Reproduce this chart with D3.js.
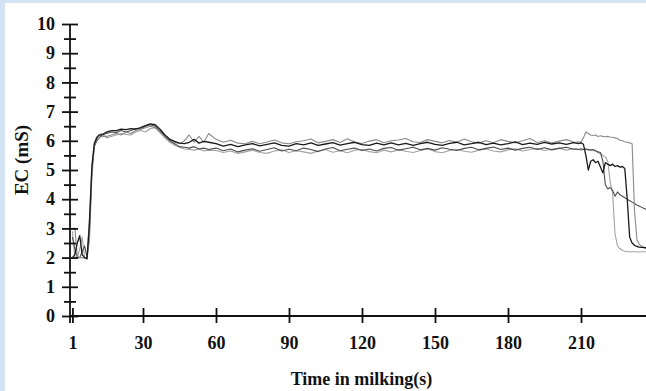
<!DOCTYPE html>
<html>
<head>
<meta charset="utf-8">
<script src="https://cdn.jsdelivr.net/npm/d3@7/dist/d3.min.js"></script>
<style>
	body { margin: 0; background: #fff; }
	svg { display: block; }
</style>
</head>
<body>
<div id="chart"></div>
<script>
//	Sampling times (s), shared by all four records
var times = [1,2,3,4,5,6,7,8,9,10,11,12,13,
	15,17,19,21,23,25,27,29,31,33,35,37,39,41,43,45,47,49,51,53,55,57,
	60,63,66,69,72,75,78,81,84,87,90,93,96,99,102,105,108,111,114,117,120,123,126,129,
	132,135,138,141,144,147,150,153,156,159,162,165,168,171,174,177,180,183,186,189,
	192,195,198,201,204,207,
	208,209,210,211,212,213,214,215,216,217,218,219,220,221,222,223,224,225,226,227,
	228,229,230,231,232,233,234,235,236,237];

//	EC (mS) per record
var ecA = [3.0,3.0,2.05,2.0,2.0,1.98,1.95,2.6,4.8,5.85,6.05,6.1,6.15,
	6.15,6.2,6.25,6.2,6.3,6.25,6.35,6.4,6.45,6.5,6.45,6.3,6.15,6.05,5.95,5.9,6.0,6.2,5.95,6.15,5.95,6.25,
	6.05,5.95,6.02,5.92,5.9,5.98,5.9,5.96,6.03,5.93,
	5.9,5.97,6.0,6.06,5.93,5.98,6.04,5.94,6.07,5.96,
	5.91,5.99,6.04,5.93,6.0,6.03,6.08,5.97,5.94,6.04,
	5.98,5.93,6.01,5.95,6.06,5.97,5.92,6.0,5.93,6.04,
	5.98,5.93,6.0,6.08,5.94,6.0,5.92,5.99,6.04,5.96,
	5.95,5.97,5.95,6.1,6.3,6.25,6.2,6.18,6.2,6.15,6.17,6.15,6.14,6.15,6.13,6.12,6.1,6.08,6.02,6.0,
	5.97,5.95,5.93,5.9,3.6,2.6,2.45,2.38,2.32,2.3];

var ecB = [2.0,2.1,2.5,2.75,2.1,2.0,1.97,3.2,5.1,5.9,6.1,6.2,6.2,
	6.3,6.35,6.35,6.4,6.38,6.42,6.4,6.45,6.52,6.58,6.55,6.4,6.2,6.05,5.98,5.92,5.9,5.95,6.05,5.92,5.98,5.95,
	5.9,5.82,5.88,5.8,5.86,5.9,5.83,5.88,5.93,5.84,
	5.82,5.9,5.86,5.93,5.84,5.89,5.94,5.85,5.9,5.95,
	5.87,5.84,5.92,5.86,5.93,5.86,5.91,5.84,5.9,5.95,
	5.88,5.84,5.91,5.95,5.86,5.9,5.95,5.87,5.92,5.86,
	5.9,5.96,5.87,5.92,5.88,5.95,5.89,5.93,5.88,5.94,
	5.92,5.9,5.93,5.88,5.5,5.0,5.3,5.35,5.25,5.3,5.1,4.9,5.25,5.2,5.15,5.2,5.12,5.15,5.1,5.12,
	5.05,4.0,2.7,2.5,2.42,2.38,2.36,2.35,2.35,2.34];

var ecC = [2.7,2.3,2.0,2.0,2.2,2.4,2.0,2.9,5.0,5.8,6.0,6.1,6.2,
	6.25,6.3,6.28,6.35,6.3,6.35,6.42,6.4,6.5,6.55,6.5,6.35,6.15,6.0,5.9,5.8,5.78,5.75,5.8,5.72,5.75,5.7,
	5.75,5.66,5.72,5.62,5.68,5.73,5.64,5.7,5.76,5.65,
	5.71,5.66,5.75,5.7,5.63,5.72,5.77,5.66,5.71,5.75,
	5.67,5.72,5.65,5.74,5.77,5.68,5.73,5.78,5.69,5.74,
	5.68,5.76,5.71,5.67,5.74,5.78,5.69,5.74,5.79,5.7,
	5.75,5.68,5.74,5.78,5.7,5.76,5.69,5.74,5.78,5.71,
	5.72,5.7,5.73,5.7,5.72,5.7,5.68,5.7,5.66,5.62,5.6,5.3,4.5,4.35,4.4,4.3,4.1,4.25,4.15,4.1,
	4.05,4.0,3.95,3.9,3.85,3.8,3.76,3.72,3.68,3.64];

var ecD = [2.9,2.0,2.0,2.3,2.7,2.0,1.95,3.4,5.2,5.95,6.15,6.2,6.25,
	6.1,6.15,6.2,6.25,6.22,6.2,6.3,6.35,6.3,6.42,6.45,6.28,6.1,5.95,5.85,5.78,5.72,5.7,5.68,5.72,5.65,5.68,
	5.67,5.6,5.65,5.57,5.62,5.68,5.6,5.57,5.65,5.69,
	5.6,5.66,5.62,5.57,5.65,5.7,5.61,5.66,5.59,5.68,
	5.7,5.63,5.59,5.68,5.62,5.69,5.64,5.6,5.67,5.72,
	5.63,5.59,5.67,5.71,5.64,5.61,5.68,5.72,5.65,5.62,
	5.69,5.73,5.65,5.7,5.74,5.67,5.71,5.75,5.68,5.73,
	5.72,5.7,5.68,5.7,5.72,5.68,5.7,5.66,5.65,5.6,5.55,5.5,5.45,5.3,4.6,4.2,2.8,2.4,2.3,2.25,
	2.22,2.2,2.2,2.2,2.2,2.2,2.19,2.2,2.2,2.2];

var xTicks = [1, 30, 60, 90, 120, 150, 180, 210];
var yTicks = [0, 1, 2, 3, 4, 5, 6, 7, 8, 9, 10];
var yMinor = [0.5, 1.5, 2.5, 3.5, 4.5, 5.5, 6.5, 7.5, 8.5, 9.5];

var series = [
	{ values: ecD, color: "#a3a3a3", width: 1.1 },
	{ values: ecC, color: "#4d4d4d", width: 1.1 },
	{ values: ecA, color: "#8a8a8a", width: 1.1 },
	{ values: ecB, color: "#1a1a1a", width: 1.3 }
];

drawChart();

function drawChart() {
	var W = 646,
		H = 391;

	var svg = d3.select("#chart")
		.append("svg")
		.attr("width", W)
		.attr("height", H);

	//	Page background with the blue frame on left and top
	svg.append("rect")
		.attr("width", W)
		.attr("height", H)
		.attr("fill", "#fff");
	svg.append("rect")
		.attr("width", 5)
		.attr("height", H)
		.attr("fill", "#d3e3f4");
	svg.append("rect")
		.attr("width", W)
		.attr("height", 3)
		.attr("fill", "#d3e3f4");

	var x = d3.scaleLinear()
		.domain([0, 237])
		.range([70, 646.7]);

	var y = d3.scaleLinear()
		.domain([0, 10])
		.range([316, 24]);

	var font = "'Liberation Serif', 'Times New Roman', serif";

	svg.append("clipPath")
		.attr("id", "plot-clip")
		.append("rect")
		.attr("x", 70)
		.attr("y", 0)
		.attr("width", W - 70)
		.attr("height", 316);

	//	Records
	var line = d3.line()
		.x(function(d, i) { return x(times[i]); })
		.y(function(d) { return y(d); });

	svg.append("g")
		.attr("clip-path", "url(#plot-clip)")
		.selectAll("path")
		.data(series)
		.enter()
		.append("path")
		.attr("d", function(s) { return line(s.values); })
		.attr("fill", "none")
		.attr("stroke", function(s) { return s.color; })
		.attr("stroke-width", function(s) { return s.width; })
		.attr("stroke-linejoin", "round");

	//	X axis
	var xAxis = svg.append("g")
		.attr("transform", "translate(0,316)")
		.call(d3.axisBottom(x)
			.tickValues(xTicks)
			.tickFormat(d3.format("d"))
			.tickSizeInner(7)
			.tickSizeOuter(0));

	xAxis.select(".domain")
		.attr("d", "M70,0H646")
		.attr("stroke", "#111")
		.attr("stroke-width", 1.8);
	xAxis.selectAll(".tick line")
		.attr("y1", -8)
		.attr("stroke", "#111")
		.attr("stroke-width", 1.8);
	xAxis.selectAll(".tick text")
		.attr("y", 20)
		.attr("fill", "#111")
		.style("font-family", font)
		.style("font-weight", "bold")
		.style("font-size", "18px");

	//	Y axis, minor ticks first
	var yMinorAxis = svg.append("g")
		.attr("transform", "translate(70,0)")
		.call(d3.axisLeft(y)
			.tickValues(yMinor)
			.tickFormat("")
			.tickSizeInner(6)
			.tickSizeOuter(0));

	yMinorAxis.select(".domain").remove();
	yMinorAxis.selectAll(".tick line")
		.attr("x1", 6)
		.attr("stroke", "#111")
		.attr("stroke-width", 1.8);

	var yAxis = svg.append("g")
		.attr("transform", "translate(70,0)")
		.call(d3.axisLeft(y)
			.tickValues(yTicks)
			.tickFormat(d3.format("d"))
			.tickSizeInner(8)
			.tickSizeOuter(0)
			.tickPadding(7));

	yAxis.select(".domain")
		.attr("d", "M0,24V323")
		.attr("stroke", "#111")
		.attr("stroke-width", 1.8);
	yAxis.selectAll(".tick line")
		.attr("x1", 8)
		.attr("stroke", "#111")
		.attr("stroke-width", 1.8);
	yAxis.selectAll(".tick text")
		.attr("fill", "#111")
		.style("font-family", font)
		.style("font-weight", "bold")
		.style("font-size", "18px");

	//	Axis titles
	svg.append("text")
		.attr("x", 361.5)
		.attr("y", 385)
		.attr("text-anchor", "middle")
		.attr("fill", "#111")
		.style("font-family", font)
		.style("font-weight", "bold")
		.style("font-size", "18px")
		.text("Time in milking(s)");

	svg.append("text")
		.attr("transform", "translate(28,160) rotate(-90)")
		.attr("text-anchor", "middle")
		.attr("fill", "#111")
		.style("font-family", font)
		.style("font-weight", "bold")
		.style("font-size", "19px")
		.text("EC (mS)");
}
</script>
</body>
</html>
